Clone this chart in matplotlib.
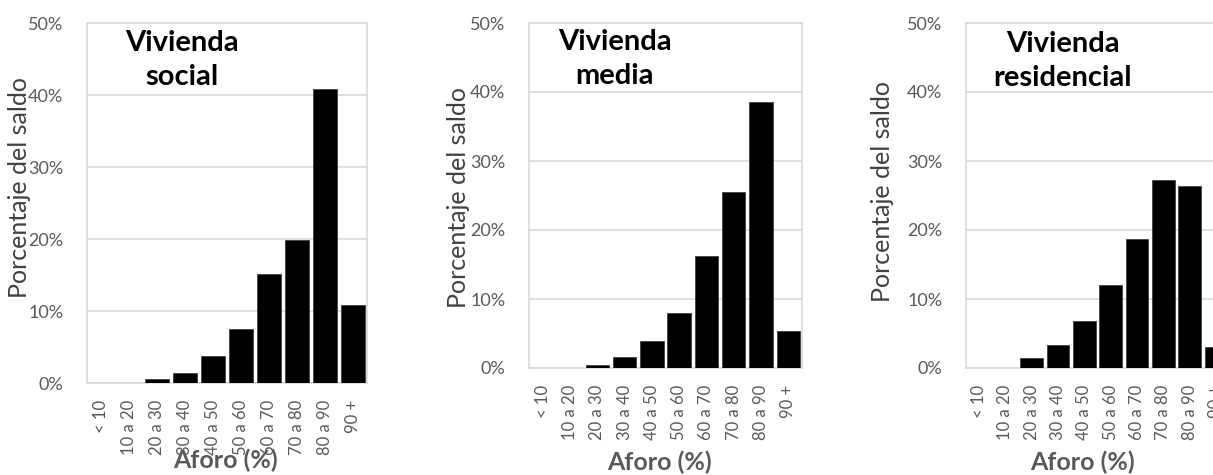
import matplotlib.pyplot as plt
from matplotlib.ticker import PercentFormatter

# datos (porcentaje del saldo por rango de aforo)
categorias = ['< 10', '10 a 20', '20 a 30', '30 a 40', '40 a 50',
              '50 a 60', '60 a 70', '70 a 80', '80 a 90', '90 +']
social = [0.0, 0.0, 0.55, 1.4, 3.7, 7.5, 15.2, 19.9, 40.9, 10.9]
media = [0.0, 0.0, 0.5, 1.6, 3.9, 8.0, 16.2, 25.5, 38.6, 5.3]
residencial = [0.0, 0.0, 1.45, 3.3, 6.8, 12.1, 18.7, 27.2, 26.4, 3.0]
titulos = ['Vivienda\nsocial', 'Vivienda\nmedia', 'Vivienda\nresidencial']
yticks = [0, 10, 20, 30, 40, 50]

W, H = 1213, 475
plt.rcParams['font.family'] = ['Lato', 'DejaVu Sans']
fig = plt.figure(figsize=(W / 100, H / 100), dpi=100)

# cajas de cada panel en pixeles: izquierda, derecha, arriba, abajo
cajas = [(87, 367, 23, 383), (529, 802, 23, 368), (966, 1229, 23, 368)]
pos_titulo = [(182, 60), (615, 59), (1063, 61)]
pos_ylabel = [(20, 187), (459, 198), (882, 192)]
pos_xlabel = [(225, 460), (659, 462), (1082, 462)]

gris = '#595959'
series = [social, media, residencial]
for i, valores in enumerate(series):
    l, r, t, b = cajas[i]
    ax = fig.add_axes([l / W, 1 - b / H, (r - l) / W, (b - t) / H])
    ax.bar(range(len(categorias)), valores, width=0.86, color='black',
           edgecolor='#404040', linewidth=0.6, zorder=3)
    ax.set_xlim(-0.5, len(categorias) - 0.5)
    ax.set_ylim(0, 50)
    ax.set_yticks(yticks)
    ax.yaxis.set_major_formatter(PercentFormatter(decimals=0))
    ax.set_xticks(range(len(categorias)))
    ax.set_xticklabels(categorias, rotation=90)
    ax.tick_params(axis='x', length=0, pad=12, labelsize=12, labelcolor=gris)
    ax.tick_params(axis='y', length=0, pad=17, labelsize=13, labelcolor=gris)
    ax.grid(axis='y', color='#d9d9d9', linewidth=1.2, zorder=0)
    for s in ax.spines.values():
        s.set_color('#d9d9d9')
        s.set_linewidth(1.2)

    x, y = pos_titulo[i]
    fig.text(x / W, 1 - y / H, titulos[i], ha='center', va='center',
             fontsize=21, fontweight='bold', color='black', linespacing=1.4)
    x, y = pos_ylabel[i]
    fig.text(x / W, 1 - y / H, 'Porcentaje del saldo', rotation=90,
             ha='center', va='center', fontsize=18, fontweight='normal',
             color='#404040')
    x, y = pos_xlabel[i]
    fig.text(x / W, 1 - y / H, 'Aforo (%)', ha='center', va='center',
             fontsize=18, fontweight='bold', color=gris)

fig.savefig('out.png', dpi=100)
